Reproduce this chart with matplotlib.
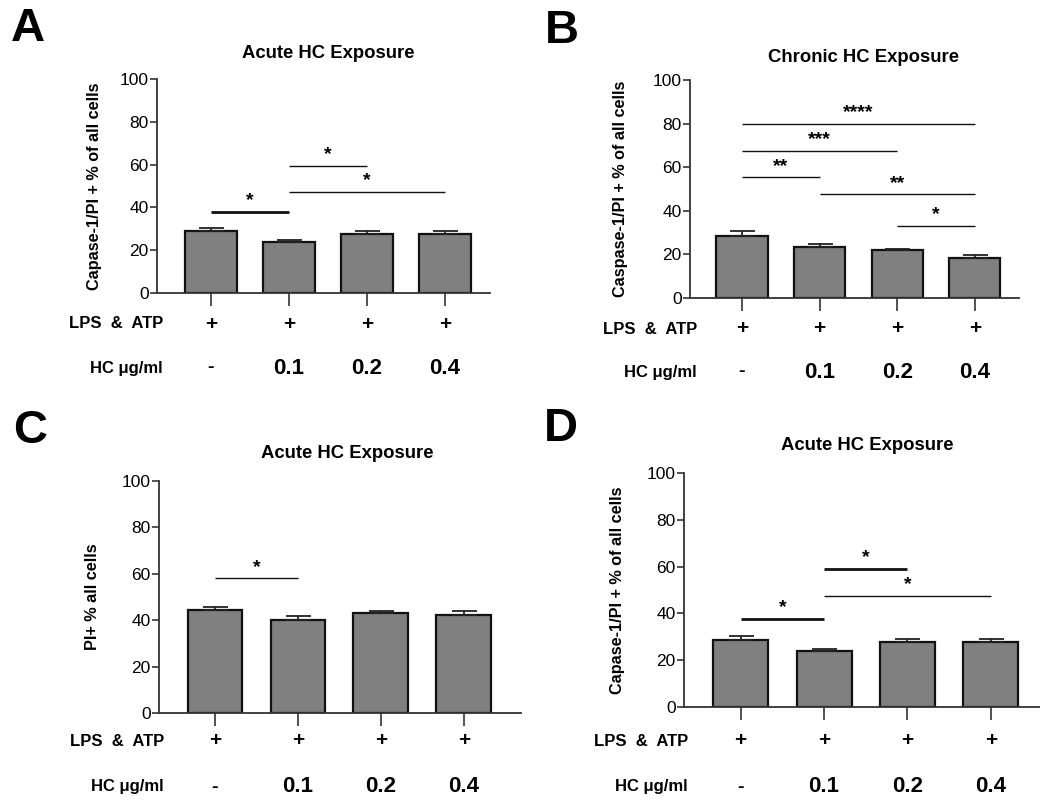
import matplotlib.pyplot as plt
import matplotlib.transforms as mtransforms
import numpy as np

plt.rcParams['font.family'] = ['Liberation Sans', 'DejaVu Sans']

W, H = 1040, 801

# ─────────────────────────────────────────────
# data
# ─────────────────────────────────────────────
lps_atp = ['+', '+', '+', '+']
hc_dose = ['-', '0.1', '0.2', '0.4']

acute_caspase = [28.8, 24.0, 27.6, 27.6]
acute_caspase_err = [1.6, 0.9, 1.6, 1.6]

chronic_caspase = [28.6, 23.6, 22.1, 18.3]
chronic_caspase_err = [2.0, 1.2, 0.5, 1.2]

acute_pi = [44.2, 40.1, 43.1, 42.2]
acute_pi_err = [1.6, 1.6, 1.0, 1.9]

# significance brackets: (from bar, to bar, height, stars, thick line)
sig_a = [(0, 1, 38, '*', True), (1, 2, 59.5, '*', False), (1, 3, 47.3, '*', False)]
sig_b = [(0, 3, 80, '****', False), (0, 2, 67.6, '***', False), (0, 1, 55.4, '**', False),
         (1, 3, 47.6, '**', False), (2, 3, 33, '*', False)]
sig_c = [(0, 1, 58, '*', False)]
sig_d = [(0, 1, 37.6, '*', True), (1, 2, 59.1, '*', True), (1, 3, 47.4, '*', False)]


def px_axes(x0, x1, ytop, ybot):
    return [x0 / W, 1 - ybot / H, (x1 - x0) / W, (ybot - ytop) / H]


fig = plt.figure(figsize=(W / 100, H / 100), dpi=100)


def panel(rect, xlim, vals, errs, sigs, ylabel, title, title_xy, letter, letter_xy,
          row_y, row_right, ylabel_x):
    ax = fig.add_axes(px_axes(*rect))
    x = np.arange(len(vals))
    ax.bar(x, vals, width=0.66, color='#808080', edgecolor='#111111', linewidth=1.6, zorder=2)
    ax.errorbar(x, vals, yerr=[[0] * len(errs), errs], fmt='none', ecolor='#222222',
                elinewidth=1.3, capsize=9, capthick=1.3, zorder=3)
    ax.set_xlim(*xlim)
    ax.set_ylim(0, 100)
    ax.set_yticks([0, 20, 40, 60, 80, 100])
    ax.set_xticks(x)
    ax.set_xticklabels([])
    for s in ['top', 'right']:
        ax.spines[s].set_visible(False)
    for s in ['left', 'bottom']:
        ax.spines[s].set_color('#333333')
        ax.spines[s].set_linewidth(1.3)
    ax.tick_params(axis='y', length=5, width=1.2, color='#333333', labelsize=12.5, pad=1)
    ax.tick_params(axis='x', length=9, width=1.2, color='#333333')
    ax.set_ylabel(ylabel, fontsize=11.7, fontweight='bold')
    x_frac = (ylabel_x - rect[0]) / (rect[1] - rect[0])
    ax.yaxis.set_label_coords(x_frac, 0.5)
    ax.patch.set_alpha(0)

    for i0, i1, yv, stars, thick in sigs:
        ax.plot([i0, i1], [yv, yv], color='#111111', lw=2.0 if thick else 1.0,
                solid_capstyle='butt', clip_on=False)
        ax.text((i0 + i1) / 2, yv + 1.2, stars, ha='center', va='bottom',
                fontsize=14, fontweight='bold')

    fig.text(title_xy[0] / W, 1 - title_xy[1] / H, title, ha='center', va='center',
             fontsize=13.3, fontweight='bold')
    fig.text(letter_xy[0] / W, 1 - letter_xy[1] / H, letter, ha='left', va='center',
             fontsize=34, fontweight='bold')

    tr = mtransforms.blended_transform_factory(ax.transData, fig.transFigure)
    fig.text(row_right / W, 1 - row_y[0] / H, 'LPS  &  ATP', ha='right', va='center',
             fontsize=12, fontweight='bold')
    fig.text(row_right / W, 1 - row_y[1] / H, 'HC μg/ml', ha='right', va='center',
             fontsize=12, fontweight='bold')
    for i in x:
        ax.text(i, 1 - row_y[0] / H, lps_atp[i], transform=tr, ha='center', va='center',
                fontsize=15, fontweight='bold')
        ax.text(i, 1 - row_y[1] / H, hc_dose[i], transform=tr, ha='center', va='center',
                fontsize=16 if hc_dose[i] != '-' else 14, fontweight='bold')
    return ax


panel((157, 490, 79, 293), (-0.69, 3.58), acute_caspase, acute_caspase_err, sig_a,
      'Capase-1/PI + % of all cells', 'Acute HC Exposure', (328, 53), 'A', (11, 29),
      (324, 368), 163, 102)
panel((690, 1019, 80, 298), (-0.67, 3.57), chronic_caspase, chronic_caspase_err, sig_b,
      'Caspase-1/PI + % of all cells', 'Chronic HC Exposure', (863, 57), 'B', (545, 31),
      (329, 372), 697, 628)
panel((159, 521, 481, 713), (-0.675, 3.69), acute_pi, acute_pi_err, sig_c,
      'PI+ % all cells', 'Acute HC Exposure', (347, 453), 'C', (13, 431),
      (741, 787), 164, 100)
panel((684, 1040, 473, 707), (-0.68, 3.59), acute_caspase, acute_caspase_err, sig_d,
      'Capase-1/PI + % of all cells', 'Acute HC Exposure', (867, 446), 'D', (544, 429),
      (741, 787), 688, 625)

fig.savefig('out.png', dpi=100)
